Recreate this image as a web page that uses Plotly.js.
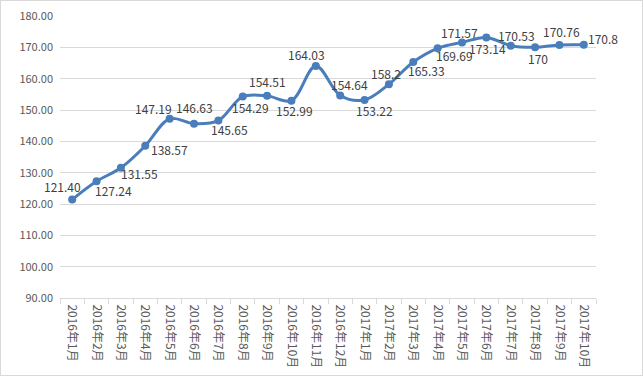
<!DOCTYPE html>
<html><head><meta charset="utf-8">
<script src="https://cdn.plot.ly/plotly-3.0.1.min.js"></script>
<style>html,body{margin:0;padding:0;background:#fff}#c{width:641px;height:374px;border:1px solid #d9d9d9}</style>
</head><body><div id="c"></div>
<script>
const categories = ["2016年1月","2016年2月","2016年3月","2016年4月","2016年5月","2016年6月","2016年7月","2016年8月","2016年9月","2016年10月","2016年11月","2016年12月","2017年1月","2017年2月","2017年3月","2017年4月","2017年5月","2017年6月","2017年7月","2017年8月","2017年9月","2017年10月"];
const values = [121.40,127.24,131.55,138.57,147.19,145.65,146.63,154.29,154.51,152.99,164.03,154.64,153.22,158.2,165.33,169.69,171.57,173.14,170.53,170,170.76,170.8];
const labels = ["121.40","127.24","131.55","138.57","147.19","145.65","146.63","154.29","154.51","152.99","164.03","154.64","153.22","158.2","165.33","169.69","171.57","173.14","170.53","170","170.76","170.8"];

// label offsets in pixels (dx right, dy down) relative to each point
const labelDx = [-10,17,19,24,-16,35,-24,8,0,3,-9,9,10,-3,13,17,-3,1,6,3,2,19];
const labelDy = [-13,9,6,4,-10,6,-13,11,-14,10,-12,-11,11,-11,9,7,-10,11,-10,11,-13,-6];

const annotations = categories.map((c, i) => ({
  x: c, y: values[i], xref: 'x', yref: 'y', text: labels[i], showarrow: false,
  xanchor: 'center', yanchor: 'middle', xshift: labelDx[i], yshift: -labelDy[i],
  font: {family: 'Noto Sans CJK SC, sans-serif', size: 12, color: '#404040'}
}));

Plotly.newPlot('c', [{
  x: categories, y: values, type: 'scatter', mode: 'lines+markers',
  line: {color: '#4a7ebb', width: 3, shape: 'spline', smoothing: 1},
  marker: {color: '#4a7ebb', size: 8},
  cliponaxis: false, hoverinfo: 'none'
}], {
  width: 641, height: 374,
  margin: {l: 59, r: 46, t: 15, b: 77},
  paper_bgcolor: '#fff', plot_bgcolor: '#fff',
  showlegend: false,
  annotations: annotations,
  xaxis: {
    type: 'category', tickangle: 90, showgrid: false, showline: true, linecolor: '#d9d9d9', linewidth: 1,
    ticks: 'outside', tickson: 'boundaries', ticklen: 5, tickcolor: '#d9d9d9',
    ticklabelstandoff: 3,
    tickfont: {family: 'Noto Sans CJK SC, sans-serif', size: 12, color: '#595959'},
    range: [-0.5, 21.5], fixedrange: true
  },
  yaxis: {
    range: [90, 180], dtick: 10, tickformat: '.2f', showgrid: true, gridcolor: '#d9d9d9', gridwidth: 1,
    zeroline: false, showline: false, ticks: '', ticklabelstandoff: 6,
    tickfont: {family: 'Noto Sans CJK SC, sans-serif', size: 11, color: '#595959'},
    fixedrange: true
  }
}, {displayModeBar: false, staticPlot: true});
</script></body></html>
